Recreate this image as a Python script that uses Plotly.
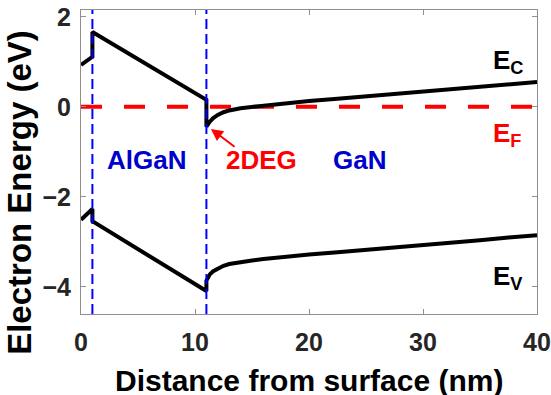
import plotly.graph_objects as go

# ---- data ----
ec_x = [0, 1, 1, 11, 11, 11.1, 11.3, 11.6, 12, 12.5, 13, 14, 15, 16, 17, 18, 20, 22.5, 25, 27.5, 30, 32.5, 35, 37.5, 40]
ec_y = [0.93, 1.11, 1.66, 0.155, -0.44, -0.40, -0.33, -0.25, -0.18, -0.12, -0.08, -0.03, 0.0, 0.03, 0.06, 0.08, 0.13, 0.18, 0.23, 0.29, 0.34, 0.39, 0.44, 0.50, 0.55]
ev_x = [0, 1, 1, 11, 11, 11.1, 11.3, 11.6, 12, 12.5, 13, 14, 15, 16, 17, 18, 20, 22.5, 25, 27.5, 30, 32.5, 35, 37.5, 40]
ev_y = [-2.51, -2.27, -2.54, -4.09, -3.86, -3.80, -3.72, -3.65, -3.59, -3.53, -3.49, -3.44, -3.41, -3.38, -3.35, -3.33, -3.28, -3.23, -3.18, -3.12, -3.07, -3.01, -2.96, -2.90, -2.85]
ef_x = [0, 40]
ef_y = [0, 0]
interfaces = [1, 11]
x_ticks = [0, 10, 20, 30, 40]
y_ticks = [-4, -2, 0, 2]

FONT = "Liberation Sans"
AXC = "#8f8f8f"
TXC = "#262626"
BLUE = "#0000CC"

fig = go.Figure()
fig.add_trace(go.Scatter(x=ef_x, y=ef_y, mode="lines",
                         line=dict(color="#FF0000", width=4, dash="21px,22px")))
fig.add_trace(go.Scatter(x=ec_x, y=ec_y, mode="lines",
                         line=dict(color="black", width=4)))
fig.add_trace(go.Scatter(x=ev_x, y=ev_y, mode="lines",
                         line=dict(color="black", width=4)))
for xi in interfaces:
    fig.add_trace(go.Scatter(x=[xi, xi], y=[-4.6, 2.15], mode="lines",
                             line=dict(color="#0000FF", width=2, dash="10px,5px")))

ann = []
def txt(x, y, s, color, size=25, **kw):
    d = dict(x=x, y=y, xref="x", yref="y", text=s, showarrow=False,
             font=dict(family=FONT, size=size, color=color, weight="bold"))
    d.update(kw)
    ann.append(d)

txt(35.95, 1.0, "E<sub>C</sub>", "black", size=26, xanchor="left", yanchor="middle")
txt(35.95, -0.62, "E<sub>F</sub>", "#FF0000", size=26, xanchor="left", yanchor="middle")
txt(35.95, -3.8, "E<sub>V</sub>", "black", size=26, xanchor="left", yanchor="middle")
txt(5.75, -1.17, "AlGaN", BLUE, size=26, xanchor="center", yanchor="middle")
txt(15.8, -1.17, "2DEG", "#FF0000", size=26, xanchor="center", yanchor="middle")
txt(24.4, -1.17, "GaN", BLUE, size=26, xanchor="center", yanchor="middle")
ann.append(dict(x=11.4, y=-0.49, ax=13.6, ay=-0.91, xref="x", yref="y",
                axref="x", ayref="y", text="", showarrow=True,
                arrowhead=2, arrowsize=1.2, arrowwidth=2, arrowcolor="#FF0000"))
ann.append(dict(x=0.5, y=-0.218, xref="paper", yref="paper",
                xanchor="center", yanchor="middle",
                text="Distance from surface (nm)", showarrow=False,
                font=dict(family=FONT, size=30, color="black", weight="bold")))
ann.append(dict(x=-0.135, y=0.40, xref="paper", yref="paper", textangle=-90,
                xanchor="center", yanchor="middle",
                text="Electron Energy (eV)", showarrow=False,
                font=dict(family=FONT, size=33, color="black", weight="bold")))

axis_common = dict(showline=True, linecolor=AXC, linewidth=1, mirror="ticks",
                   ticks="inside", ticklen=5, tickcolor=AXC, showgrid=False,
                   zeroline=False, automargin=False,
                   tickfont=dict(family=FONT, size=25, color=TXC, weight="bold"))

fig.update_layout(
    width=551, height=395,
    margin=dict(l=81, r=14, t=10, b=81),
    paper_bgcolor="white", plot_bgcolor="white",
    showlegend=False,
    xaxis=dict(range=[0, 40], tickvals=x_ticks, ticklabelstandoff=6, **axis_common),
    yaxis=dict(range=[-4.6, 2.15], tickvals=y_ticks, ticklabelstandoff=4, **axis_common),
    annotations=ann,
)
fig.write_html("out.html")
